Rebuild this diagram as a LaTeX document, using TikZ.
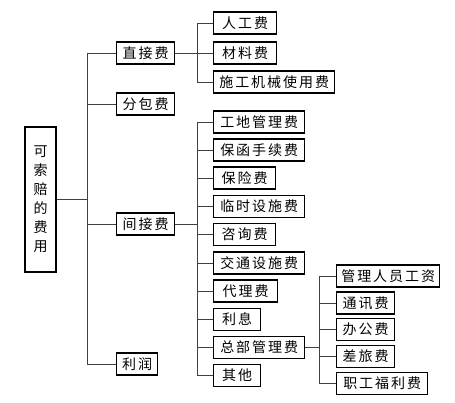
\documentclass[tikz,border=0pt]{standalone}
\usepackage{fontspec}
\newfontfamily\cjk[LetterSpace=14]{Noto Sans CJK SC}
\newfontfamily\cjkv{Noto Sans CJK SC}
\tikzset{
  box/.style={draw, line width=1.4pt, minimum height=22pt, inner sep=0pt, anchor=west,
    font=\cjk\fontsize{14}{14}\selectfont},
  conn/.style={line width=0.8pt, draw=black!75},
}
\begin{document}
\begin{tikzpicture}[x=1pt,y=-1pt]
\useasboundingbox (0,0) rectangle (455,402);
% root
\node[draw, line width=1.4pt, minimum width=31pt, minimum height=145pt, inner sep=0pt,
  align=center, font=\cjkv\fontsize{14}{19}\selectfont] (root) at (40.5,199.5)
  {可\\索\\赔\\的\\费\\用};
% level 1
\node[box, minimum width=58pt] (zj) at (116,53) {直接费};
\node[box, minimum width=58pt] (fb) at (116,104) {分包费};
\node[box, minimum width=58pt] (jj) at (116,224) {间接费};
\node[box, minimum width=41pt] (lr) at (116,364) {利润};
% level 2 under 直接费
\node[box, minimum width=63pt] (rg) at (213,23) {人工费};
\node[box, minimum width=63pt] (cl) at (213,53) {材料费};
\node[box, minimum width=121pt] (sg) at (213,82) {施工机械使用费};
% level 2 under 间接费
\node[box, minimum width=91pt] (gd) at (213,122) {工地管理费};
\node[box, minimum width=91pt] (bh) at (213,150) {保函手续费};
\node[box, minimum width=62pt] (bx) at (213,178) {保险费};
\node[box, minimum width=91pt] (ls) at (213,206.5) {临时设施费};
\node[box, minimum width=62pt] (zx) at (213,234.5) {咨询费};
\node[box, minimum width=91pt] (jt) at (213,263) {交通设施费};
\node[box, minimum width=64pt] (dl) at (213,291) {代理费};
\node[box, minimum width=47pt] (lx) at (213,319.5) {利息};
\node[box, minimum width=91pt] (zb) at (213,347.5) {总部管理费};
\node[box, minimum width=47pt] (qt) at (213,375.5) {其他};
% level 3 under 总部管理费
\node[box, minimum width=103pt] (gl) at (336,276) {管理人员工资};
\node[box, minimum width=58pt] (tx) at (336,303) {通讯费};
\node[box, minimum width=58pt] (bg) at (336,329.5) {办公费};
\node[box, minimum width=58pt] (cf) at (336,356.5) {差旅费};
\node[box, minimum width=91pt] (zg) at (336,383.5) {职工福利费};
% trunk coordinates
\coordinate (t1) at (87,0);
\coordinate (t2) at (197,0);
\coordinate (t3) at (319,0);
% connectors root
\draw[conn] (root.east) -- (root.east -| t1);
\draw[conn] (t1 |- zj.west) -- (t1 |- lr.west);
\foreach \n in {zj,fb,jj,lr} \draw[conn] (t1 |- \n.west) -- (\n.west);
% 直接费
\draw[conn] (zj.east) -- (zj.east -| t2);
\draw[conn] (t2 |- rg.west) -- (t2 |- sg.west);
\foreach \n in {rg,cl,sg} \draw[conn] (t2 |- \n.west) -- (\n.west);
% 间接费
\draw[conn] (jj.east) -- (jj.east -| t2);
\draw[conn] (t2 |- gd.west) -- (t2 |- qt.west);
\foreach \n in {gd,bh,bx,ls,zx,jt,dl,lx,zb,qt} \draw[conn] (t2 |- \n.west) -- (\n.west);
% 总部管理费
\draw[conn] (zb.east) -- (zb.east -| t3);
\draw[conn] (t3 |- gl.west) -- (t3 |- zg.west);
\foreach \n in {gl,tx,bg,cf,zg} \draw[conn] (t3 |- \n.west) -- (\n.west);
\end{tikzpicture}
\end{document}
